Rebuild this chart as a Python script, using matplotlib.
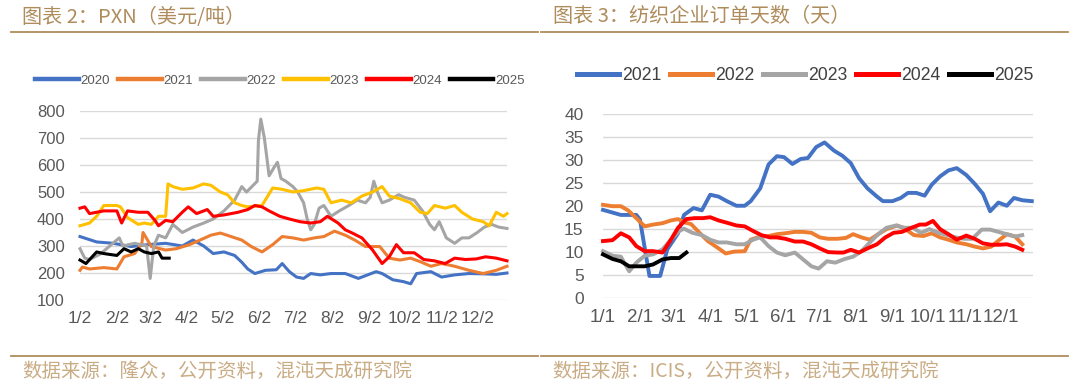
import matplotlib
matplotlib.use("Agg")
import matplotlib.pyplot as plt
from matplotlib.lines import Line2D

plt.rcParams['font.family'] = ['Liberation Sans', 'Noto Sans CJK SC', 'DejaVu Sans']

# ---- left: PXN (USD/t), x = days since 1/2 ----
pxn_2020_day = [0, 14, 28, 43, 57, 72, 86, 95, 104, 112, 121, 130, 136, 141, 147, 156, 165, 170, 176, 182,
                188, 194, 202, 211, 223, 234, 243, 249, 254, 263, 272, 278, 283, 295, 304, 315, 327, 339, 350, 359]
pxn_2020 = [335, 315, 310, 298, 305, 310, 300, 322, 300, 272, 278, 265, 240, 215, 198, 210, 212, 235, 205, 185,
            180, 198, 193, 198, 198, 180, 195, 205, 198, 175, 168, 160, 198, 205, 185, 193, 198, 197, 195, 200]

pxn_2021_day = [0, 2, 8, 20, 31, 37, 46, 52, 53, 60, 72, 81, 92, 101, 110, 118, 127, 136, 144, 153, 162, 170,
                179, 188, 197, 205, 214, 223, 231, 240, 252, 260, 269, 278, 286, 295, 304, 315, 327, 339, 350, 359]
pxn_2021 = [210, 222, 215, 220, 215, 260, 272, 310, 350, 298, 285, 290, 305, 322, 340, 348, 335, 322, 298, 278,
            305, 335, 330, 322, 330, 335, 355, 340, 322, 298, 298, 255, 248, 255, 242, 225, 235, 225, 210, 198, 210, 225]

pxn_2022_day = [0, 4, 8, 17, 33, 36, 46, 56, 59, 62, 66, 72, 78, 86, 95, 104, 112, 121, 130, 136, 140, 149, 150,
                152, 155, 159, 163, 166, 169, 173, 179, 183, 188, 191, 194, 197, 201, 205, 211, 218, 226, 233, 240,
                244, 247, 250, 254, 260, 268, 273, 281, 288, 294, 298, 302, 308, 315, 321, 327, 334, 340, 346, 352, 359]
pxn_2022 = [290, 255, 250, 270, 330, 300, 310, 300, 180, 300, 340, 330, 380, 350, 370, 385, 400, 430, 470, 520, 500,
            540, 690, 770, 700, 560, 590, 610, 550, 540, 520, 500, 460, 400, 360, 380, 440, 450, 410, 430, 450, 470,
            460, 480, 540, 500, 460, 470, 490, 480, 470, 430, 380, 360, 390, 330, 310, 330, 330, 350, 370, 380, 370, 365]

pxn_2023_day = [0, 8, 14, 20, 31, 34, 40, 49, 54, 60, 66, 72, 74, 78, 86, 95, 104, 110, 118, 124, 130, 136, 141,
                153, 162, 170, 179, 188, 199, 205, 211, 220, 228, 237, 246, 254, 260, 269, 278, 286, 292, 298, 307,
                315, 321, 330, 339, 344, 350, 356, 359]
pxn_2023 = [375, 385, 410, 450, 450, 445, 405, 380, 385, 380, 410, 410, 530, 520, 510, 515, 530, 525, 500, 490,
            460, 450, 445, 450, 515, 510, 500, 505, 515, 510, 460, 470, 460, 485, 500, 520, 485, 475, 460, 425,
            420, 450, 440, 450, 425, 400, 390, 375, 425, 410, 420]

pxn_2024_day = [0, 4, 8, 20, 31, 35, 40, 49, 57, 63, 66, 72, 78, 86, 91, 98, 107, 112, 121, 133, 141, 147, 153,
                159, 168, 176, 185, 194, 202, 208, 217, 223, 228, 237, 246, 254, 260, 266, 272, 281, 289, 298, 307,
                315, 324, 333, 341, 350, 359]
pxn_2024 = [440, 445, 420, 430, 430, 385, 430, 425, 425, 395, 375, 395, 390, 425, 445, 420, 435, 410, 415, 425,
            435, 450, 445, 430, 410, 400, 390, 385, 390, 410, 385, 360, 350, 330, 285, 235, 260, 305, 275, 275,
            250, 245, 235, 255, 250, 252, 260, 255, 245]

pxn_2025_day = [0, 5, 14, 20, 31, 37, 43, 49, 54, 60, 66, 69, 75]
pxn_2025 = [248, 235, 278, 272, 265, 290, 278, 290, 278, 272, 278, 255, 255]

pxn_ticks = [0, 31, 59, 90, 120, 151, 181, 212, 243, 273, 304, 334]
pxn_labels = ['1/2', '2/2', '3/2', '4/2', '5/2', '6/2', '7/2', '8/2', '9/2', '10/2', '11/2', '12/2']

# ---- right: textile order days, x = days since 1/1 ----
ord_2021_day = [0, 15, 28, 31, 39, 48, 54, 63, 68, 76, 83, 90, 97, 104, 112, 119, 124, 132, 139, 146, 152, 159,
                166, 172, 179, 186, 194, 201, 208, 215, 222, 230, 235, 243, 250, 256, 263, 270, 276, 283, 290, 297,
                305, 312, 319, 325, 332, 339, 345, 352, 360]
ord_2021 = [19.1, 18, 18, 17, 4.7, 4.7, 10.5, 14, 18, 19.5, 19, 22.4, 22, 21, 20, 20, 21, 23.8, 29, 30.8, 30.6,
            29.1, 30.2, 30.4, 32.8, 33.8, 32, 30.9, 29.3, 26, 23.8, 22, 21, 21, 21.7, 22.8, 22.8, 22.2, 24.6, 26.4,
            27.7, 28.2, 26.7, 24.8, 22.6, 18.8, 20.7, 20, 21.7, 21.2, 21]

ord_2022_day = [0, 8, 15, 21, 28, 35, 42, 50, 57, 63, 68, 74, 81, 88, 96, 103, 110, 119, 124, 132, 139, 146, 153,
                161, 168, 175, 182, 189, 197, 204, 210, 217, 224, 231, 238, 247, 254, 261, 269, 276, 283, 290, 297,
                305, 312, 319, 326, 333, 339, 346, 352]
ord_2022 = [20.2, 19.9, 19.9, 19, 17.3, 15.5, 15.9, 16.2, 16.8, 17.1, 16.4, 16, 14.1, 12.3, 10.9, 9.6, 10, 10.1,
            12.6, 13.3, 13.4, 13.8, 14, 14.3, 14.3, 14.1, 13.1, 12.8, 12.8, 13, 13.8, 13.1, 12.6, 13.8, 14.9, 15.7,
            14.9, 13.6, 13.4, 14, 13.1, 12.6, 12, 11.6, 11.1, 10.7, 11.1, 12.6, 13.8, 13.3, 11.6]

ord_2023_day = [0, 8, 15, 22, 28, 35, 42, 50, 57, 64, 68, 75, 83, 90, 97, 104, 112, 119, 126, 132, 139, 146, 153,
                161, 168, 175, 181, 188, 195, 203, 210, 217, 224, 231, 238, 246, 253, 260, 267, 274, 282, 289, 296,
                303, 310, 318, 325, 332, 339, 346, 352]
ord_2023 = [10.1, 9.1, 8.9, 5.7, 7.6, 9.1, 9.4, 10.5, 12.6, 14.5, 15, 14.1, 13.6, 12.6, 12, 12, 11.6, 11.6, 12.6,
            13.1, 11.2, 9.8, 9.2, 9.8, 8.3, 6.8, 6.3, 7.9, 7.6, 8.4, 8.9, 10.1, 12, 13.8, 15.2, 15.7, 15.2, 15.2,
            14.1, 14.9, 14.1, 13.6, 13.1, 12.8, 12.8, 14.8, 14.8, 14.3, 13.8, 13.3, 13.6]

ord_2024_day = [0, 8, 15, 22, 28, 35, 42, 50, 57, 63, 70, 77, 84, 90, 97, 104, 112, 119, 126, 133, 140, 146, 153,
                161, 168, 175, 182, 189, 197, 202, 208, 215, 222, 230, 237, 244, 251, 259, 266, 271, 277, 283, 290,
                297, 305, 312, 319, 326, 333, 339, 346, 352]
ord_2024 = [12.3, 12.5, 14, 13.1, 11.2, 10.1, 10.1, 9.8, 12.6, 15.2, 17.1, 17.3, 17.3, 17.5, 16.8, 16.3, 15.7,
            15.5, 14.5, 13.6, 13.1, 13.1, 12.8, 12.2, 12.2, 11.6, 10.7, 9.9, 9.8, 9.8, 10.4, 9.8, 10.7, 11.6, 13.1,
            14.1, 14.3, 15.2, 15.9, 15.9, 16.7, 14.9, 13.8, 12.6, 13.5, 12.8, 11.8, 11.5, 11.5, 11.6, 11.1, 10.4]

ord_2025_day = [0, 8, 15, 22, 28, 35, 42, 50, 57, 64, 70]
ord_2025 = [9.4, 8.4, 7.9, 6.8, 6.8, 6.8, 7.2, 8.3, 8.6, 8.6, 9.8]

ord_ticks = [0, 31, 59, 90, 120, 151, 181, 212, 243, 273, 304, 334]
ord_labels = ['1/1', '2/1', '3/1', '4/1', '5/1', '6/1', '7/1', '8/1', '9/1', '10/1', '11/1', '12/1']

BLUE, ORANGE, GRAY, YELLOW, RED, BLACK = '#4472C4', '#ED7D31', '#A5A5A5', '#FFC000', '#FF0000', '#000000'
TICK = '#595959'
GRID = '#D9D9D9'
GOLD = '#AE8C5C'
SRC = '#C9AC84'

W, H = 1080, 389
fig = plt.figure(figsize=(W / 100, H / 100), dpi=100)


def frac_box(x0, x1, y_top, y_bot):
    return [x0 / W, 1 - y_bot / H, (x1 - x0) / W, (y_bot - y_top) / H]


def style_axis(ax, xsize, ysize, ypad):
    for s in ax.spines.values():
        s.set_visible(False)
    ax.grid(axis='y', color=GRID, linewidth=1.0)
    ax.set_axisbelow(True)
    ax.tick_params(axis='both', length=0, colors=TICK)
    ax.tick_params(axis='x', pad=8, labelsize=xsize)
    ax.tick_params(axis='y', pad=ypad, labelsize=ysize)


# left panel
ax1 = fig.add_axes(frac_box(80, 507, 111, 300))
left_series = [
    (pxn_2020_day, pxn_2020, BLUE, '2020'),
    (pxn_2021_day, pxn_2021, ORANGE, '2021'),
    (pxn_2022_day, pxn_2022, GRAY, '2022'),
    (pxn_2023_day, pxn_2023, YELLOW, '2023'),
    (pxn_2024_day, pxn_2024, RED, '2024'),
    (pxn_2025_day, pxn_2025, BLACK, '2025'),
]
for d, v, c, lab in left_series:
    ax1.plot(d, v, color=c, lw=2.2, label=lab, solid_joinstyle='round', clip_on=False)
ax1.set_xlim(0, 359)
ax1.set_ylim(100, 800)
ax1.set_yticks(range(100, 801, 100))
ax1.set_xticks(pxn_ticks)
ax1.set_xticklabels(pxn_labels)
style_axis(ax1, 12.5, 12, 11)

h1 = [Line2D([], [], color=c, lw=3.2) for _, _, c, _ in left_series]
fig.legend(h1, [s[3] for s in left_series], loc='center', bbox_to_anchor=(280 / W, 1 - 81 / H), ncol=6,
           frameon=False, fontsize=9.5, handlelength=3.3, handletextpad=0.15, columnspacing=0.6,
           labelcolor=TICK)

# right panel
ax2 = fig.add_axes(frac_box(603, 1033, 114, 297.5))
right_series = [
    (ord_2021_day, ord_2021, BLUE, '2021'),
    (ord_2022_day, ord_2022, ORANGE, '2022'),
    (ord_2023_day, ord_2023, GRAY, '2023'),
    (ord_2024_day, ord_2024, RED, '2024'),
    (ord_2025_day, ord_2025, BLACK, '2025'),
]
for d, v, c, lab in right_series:
    ax2.plot(d, v, color=c, lw=2.8, label=lab, solid_joinstyle='round', clip_on=False)
ax2.set_xlim(0, 361)
ax2.set_ylim(0, 40)
ax2.set_yticks(range(0, 41, 5))
ax2.set_xticks(ord_ticks)
ax2.set_xticklabels(ord_labels)
style_axis(ax2, 13.5, 12.5, 14)

h2 = [Line2D([], [], color=c, lw=3.6) for _, _, c, _ in right_series]
fig.legend(h2, [s[3] for s in right_series], loc='center', bbox_to_anchor=(805 / W, 1 - 76 / H), ncol=5,
           frameon=False, fontsize=12.7, handlelength=2.4, handletextpad=0.15, columnspacing=0.5,
           labelcolor='#404040')

# titles, rules and source notes
cjk = ['Noto Sans CJK SC', 'DejaVu Sans']
fig.text(22 / W, 1 - 17 / H, '图表 2：PXN（美元/吨）', family=cjk, fontsize=14.5, color=GOLD, va='center')
fig.text(553 / W, 1 - 17 / H, '图表 3：纺织企业订单天数（天）', family=cjk, fontsize=14.5, color=GOLD, va='center')
for x0, x1 in [(11, 538), (541, 1068)]:
    fig.add_artist(Line2D([x0 / W, x1 / W], [1 - 31.5 / H] * 2, color=GOLD, lw=1.3))
    fig.add_artist(Line2D([x0 / W, x1 / W], [1 - 356 / H] * 2, color=GOLD, lw=1.3))
fig.text(22 / W, 1 - 371 / H, '数据来源：隆众，公开资料，混沌天成研究院', family=cjk, fontsize=14, color=SRC, va='center')
fig.text(552 / W, 1 - 371 / H, '数据来源：ICIS，公开资料，混沌天成研究院', family=cjk, fontsize=14, color=SRC, va='center')

fig.savefig('out.png', dpi=100)
